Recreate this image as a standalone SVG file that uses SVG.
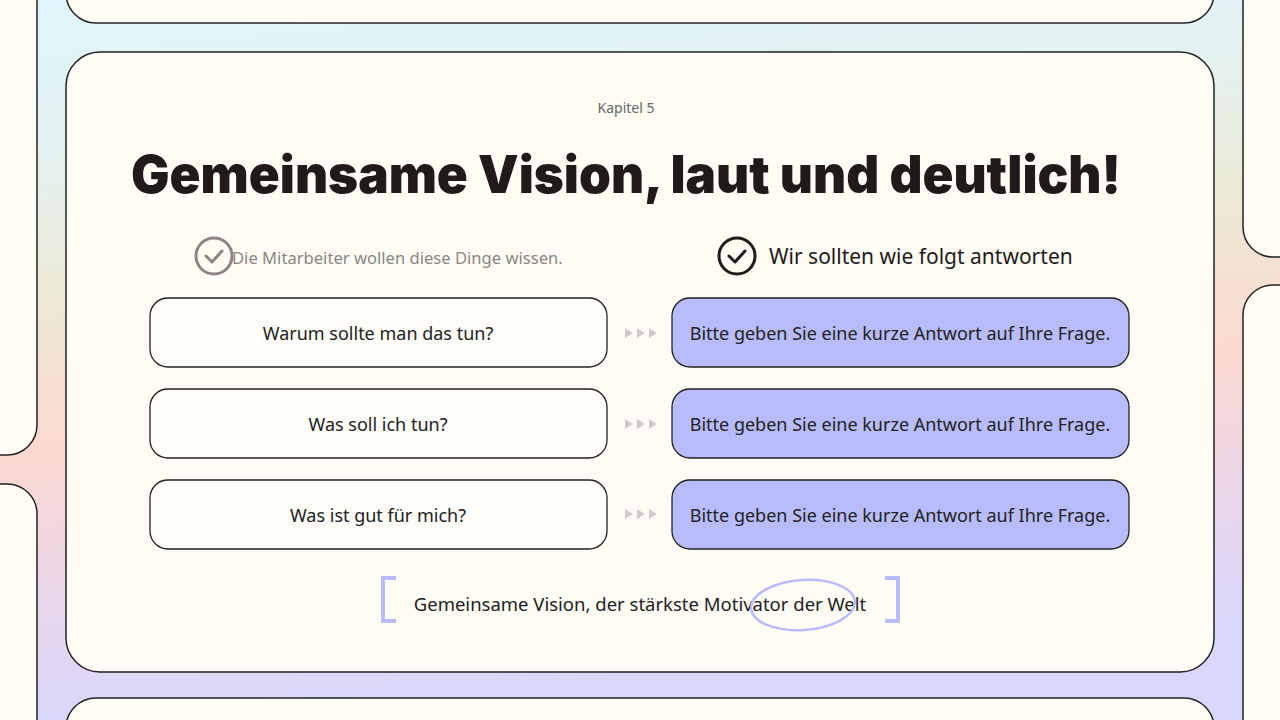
<svg xmlns="http://www.w3.org/2000/svg" width="1280" height="720" viewBox="0 0 1280 720">
<defs>
<linearGradient id="bg" x1="0" y1="0" x2="0.15" y2="1">
<stop offset="0" stop-color="#e0f4fb"/>
<stop offset="0.2" stop-color="#e3f2f2"/>
<stop offset="0.4" stop-color="#ecead6"/>
<stop offset="0.62" stop-color="#fbd8d0"/>
<stop offset="0.85" stop-color="#e6d6ee"/>
<stop offset="1" stop-color="#d8d8fc"/>
</linearGradient>
<style>
.panel{fill:#fffcf6;stroke:#222;stroke-width:1.5}
.q{fill:#fffdf9;stroke:#222;stroke-width:1.3}
.a{fill:#b8bcfc;stroke:#222;stroke-width:1.3}
.t{font-family:"Noto Sans","Open Sans",sans-serif;font-size:18px;fill:#222;text-anchor:middle}
.tri{fill:#cfcccc}
.br{fill:none;stroke:#b8bcfc;stroke-width:4}
</style>
</defs>
<rect width="1280" height="720" fill="url(#bg)"/>
<g id="side-panels">
<rect class="panel" x="-40" y="-40" width="77" height="495" rx="30"/>
<rect class="panel" x="-40" y="484" width="77" height="300" rx="30"/>
<rect class="panel" x="1243" y="-40" width="100" height="297" rx="30"/>
<rect class="panel" x="1243" y="285" width="100" height="500" rx="30"/>
</g>
<g id="top-panel"><rect class="panel" x="66" y="-40" width="1148" height="63" rx="30"/></g>
<g id="bottom-panel"><rect class="panel" x="66" y="698" width="1148" height="80" rx="30"/></g>
<g id="main-panel">
<rect class="panel" x="66" y="52" width="1148" height="620" rx="34"/>
<text x="626" y="113" font-family="Noto Sans, sans-serif" font-size="14" fill="#666" text-anchor="middle">Kapitel 5</text>
<text x="131" y="193" font-family="Inter, sans-serif" font-weight="900" font-size="52" fill="#1e1b1a" textLength="990" lengthAdjust="spacingAndGlyphs">Gemeinsame Vision, laut und deutlich!</text>
</g>
<g id="header-left">
<circle cx="214" cy="256" r="18" fill="none" stroke="#8a8682" stroke-width="3"/>
<path d="M206 256 l6 6 l10 -11" fill="none" stroke="#8a8682" stroke-width="3" stroke-linecap="round" stroke-linejoin="round"/>
<text x="232" y="264" font-family="Noto Sans, sans-serif" font-size="16.6" fill="#8a8682">Die Mitarbeiter wollen diese Dinge wissen.</text>
</g>
<g id="header-right">
<circle cx="737" cy="256" r="18" fill="none" stroke="#1e1b1a" stroke-width="3"/>
<path d="M729 256 l6 6 l10 -11" fill="none" stroke="#1e1b1a" stroke-width="3" stroke-linecap="round" stroke-linejoin="round"/>
<text x="769" y="264" font-family="Noto Sans, sans-serif" font-size="21" fill="#1e1b1a">Wir sollten wie folgt antworten</text>
</g>
<g id="q1"><rect class="q" x="150" y="298" width="457" height="69" rx="18"/><text class="t" x="378" y="340">Warum sollte man das tun?</text></g>
<g id="q2"><rect class="q" x="150" y="389" width="457" height="69" rx="18"/><text class="t" x="378" y="431">Was soll ich tun?</text></g>
<g id="q3"><rect class="q" x="150" y="480" width="457" height="69" rx="18"/><text class="t" x="378" y="522">Was ist gut für mich?</text></g>
<g id="a1"><rect class="a" x="672" y="298" width="457" height="69" rx="18"/><text class="t" x="900" y="340">Bitte geben Sie eine kurze Antwort auf Ihre Frage.</text></g>
<g id="a2"><rect class="a" x="672" y="389" width="457" height="69" rx="18"/><text class="t" x="900" y="431">Bitte geben Sie eine kurze Antwort auf Ihre Frage.</text></g>
<g id="a3"><rect class="a" x="672" y="480" width="457" height="69" rx="18"/><text class="t" x="900" y="522">Bitte geben Sie eine kurze Antwort auf Ihre Frage.</text></g>
<g id="connectors">
<path class="tri" d="M625 328 l8 5 l-8 5z M637 328 l8 5 l-8 5z M649 328 l8 5 l-8 5z"/>
<path class="tri" d="M625 419 l8 5 l-8 5z M637 419 l8 5 l-8 5z M649 419 l8 5 l-8 5z"/>
<path class="tri" d="M625 509 l8 5 l-8 5z M637 509 l8 5 l-8 5z M649 509 l8 5 l-8 5z"/>
</g>
<g id="quote">
<path class="br" d="M396 578 H383 V621 H396"/>
<path class="br" d="M885 578 H898 V621 H885"/>
<text class="t" x="640" y="611" font-size="18.5" style="font-size:18.5px">Gemeinsame Vision, der stärkste Motivator der Welt</text>
<ellipse cx="803" cy="605" rx="52" ry="25" fill="none" stroke="#b8bcfc" stroke-width="2.5" transform="rotate(-4 803 605)"/>
</g>
</svg>
